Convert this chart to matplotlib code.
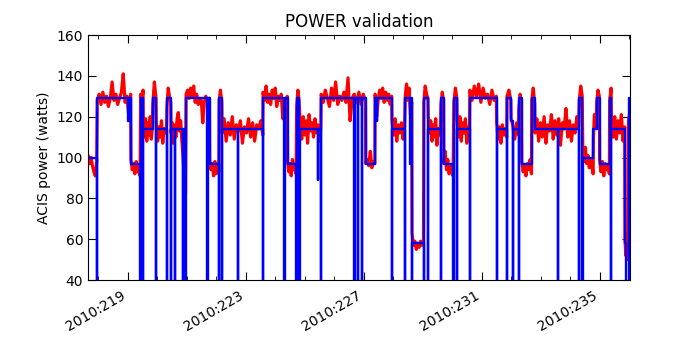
import numpy as np
import matplotlib
matplotlib.use('Agg')
import matplotlib.pyplot as plt
from matplotlib.ticker import MultipleLocator, FuncFormatter

# modelo (azul): inicio de cada degrau (dia do ano 2010) e potencia
blue_t = [217.60, 217.949, 217.96, 219.00, 219.03, 219.102,
          219.417, 219.425, 219.505, 219.515, 219.837, 219.949, 219.96,
          220.312, 220.32, 220.447, 220.455, 220.593, 220.60, 220.854, 220.86,
          220.932, 220.966, 221.688, 221.70, 221.769,
          222.085, 222.095, 222.186, 222.195, 222.729, 222.74,
          223.576, 223.585, 224.298, 224.31, 224.414,
          224.705, 224.715, 224.807, 224.815, 225.43, 225.45,
          225.542, 225.55, 226.671, 226.68, 226.807, 226.815, 226.942, 226.95,
          227.058, 227.373, 227.431, 227.44, 227.939, 227.95,
          228.380, 228.39, 228.57, 228.58, 228.627, 228.635,
          229.024, 229.03, 229.169, 229.175, 229.60, 229.61, 229.702,
          230.017, 230.051, 230.153, 230.16, 230.583, 230.59,
          231.498, 231.505, 231.847, 231.855, 231.983, 232.041, 232.05,
          232.244, 232.25, 232.346, 232.685, 232.797,
          233.566, 233.575, 234.288, 234.295, 234.400, 234.424,
          234.773, 234.888, 234.990, 235.329, 235.383, 235.39,
          235.847, 235.90, 235.973, 236.10]
blue_v = [100, 0, 129, 118, 129, 97,
          0, 129, 0, 114, 129, 0, 114,
          0, 129, 0, 114, 0, 114, 0, 114,
          0, 129, 0, 129, 97,
          0, 129, 0, 114, 0, 114,
          0, 129, 0, 129, 97,
          0, 129, 0, 114, 89, 114,
          0, 129, 0, 129, 0, 129, 0, 129,
          97, 129, 118, 129, 0, 114,
          0, 129, 97, 129, 0, 58,
          0, 129, 0, 114, 0, 129, 97,
          0, 129, 0, 114, 0, 129,
          0, 114, 0, 129, 118, 0, 114,
          0, 129, 97, 129, 114,
          0, 114, 0, 129, 0, 100,
          114, 129, 97, 129, 0, 114,
          58, 0, 129, 129]

# telemetria (vermelho): trechos (inicio, fim) e leituras ao longo de cada trecho
red_seg = [
    (217.60, 217.94, [99, 101, 97, 100, 96, 93, 91, 98]),
    (217.96, 219.09, [128, 131, 126, 132, 127, 130, 125, 129, 137, 128, 131, 126,
                      129, 132, 141, 127, 130, 120, 131]),
    (219.10, 219.41, [99, 94, 97, 92, 98, 93, 96, 91]),
    (219.43, 219.51, [131, 128, 133]),
    (219.52, 219.83, [116, 110, 119, 108, 117, 111, 120, 109, 115]),
    (219.84, 219.95, [126, 137, 129]),
    (219.96, 220.31, [117, 108, 115, 110, 118, 107, 114, 112, 116]),
    (220.32, 220.45, [125, 134, 130, 127]),
    (220.46, 220.95, [112, 117, 107, 116, 110, 119, 122, 113, 118, 108, 100, 88, 82]),
    (220.97, 221.69, [131, 133, 129, 134, 130, 135, 127, 131, 126, 129, 128, 117,
                      127, 130, 128]),
    (221.70, 221.76, [127, 129]),
    (221.77, 222.08, [99, 94, 97, 91, 98, 92, 96, 93]),
    (222.09, 222.18, [128, 133, 127]),
    (222.19, 223.57, [112, 119, 108, 117, 111, 120, 109, 116, 113, 118, 107, 115,
                      112, 119, 110, 117, 108, 116, 114, 118, 111]),
    (223.58, 224.30, [132, 128, 135, 127, 131, 126, 133, 129, 134, 125, 130, 128,
                      131, 119, 127]),
    (224.31, 224.40, [126, 130]),
    (224.41, 224.70, [98, 93, 97, 91, 99, 94, 96, 92]),
    (224.72, 224.80, [125, 133, 128]),
    (224.84, 225.54, [116, 109, 120, 111, 118, 107, 121, 113, 117, 110, 119, 112,
                      116, 108, 115]),
    (225.55, 226.67, [131, 127, 133, 129, 125, 134, 128, 137, 126, 130, 128, 132,
                      127, 139, 118, 129, 131]),
    (226.68, 227.05, [130, 127, 132, 126, 131, 128]),
    (227.06, 227.37, [97, 99, 96, 103, 95, 98, 97]),
    (227.38, 227.94, [131, 120, 128, 133, 129, 134, 127, 132, 128, 131, 126, 130]),
    (227.95, 228.38, [118, 111, 119, 108, 116, 112, 117, 109, 115]),
    (228.40, 228.62, [130, 136, 128, 134, 121, 127]),
    (228.63, 229.02, [63, 57, 59, 55, 58, 56, 59, 57, 58]),
    (229.03, 229.17, [127, 135, 131, 129]),
    (229.18, 229.60, [120, 112, 118, 108, 116, 110, 119, 106, 114, 111, 117]),
    (229.61, 229.70, [126, 132, 128]),
    (229.71, 230.02, [97, 103, 94, 99, 92, 96, 95, 91]),
    (230.05, 230.15, [127, 134, 129]),
    (230.16, 230.58, [118, 110, 120, 108, 117, 112, 119, 107, 115, 113]),
    (230.59, 231.49, [133, 128, 135, 130, 136, 127, 134, 129, 131, 126, 133, 128, 130]),
    (231.50, 231.84, [117, 109, 115, 107, 116, 111, 114, 110]),
    (231.85, 231.98, [130, 133, 128]),
    (231.99, 232.04, [119, 116]),
    (232.05, 232.24, [115, 109, 117, 111]),
    (232.25, 232.34, [124, 131, 127]),
    (232.35, 232.68, [98, 93, 96, 91, 97, 94, 99, 92]),
    (232.69, 232.79, [128, 134, 126]),
    (232.80, 234.28, [112, 119, 108, 117, 110, 120, 107, 116, 113, 121, 109, 118,
                      111, 119, 106, 117, 114, 124, 110, 118, 108, 116, 112, 120, 115]),
    (234.30, 234.40, [128, 135, 130]),
    (234.42, 234.77, [104, 98, 105, 97, 101, 95, 99, 96, 92]),
    (234.78, 234.88, [110, 121, 115, 118]),
    (234.89, 234.98, [127, 133, 130]),
    (234.99, 235.32, [99, 93, 98, 91, 97, 94, 96, 92]),
    (235.33, 235.38, [128, 134]),
    (235.39, 235.84, [116, 110, 120, 109, 118, 112, 121, 108, 115]),
    (235.85, 235.96, [60, 52, 62, 50, 56]),
    (235.97, 236.10, [118, 131]),
]

red_t = np.concatenate([np.linspace(a, b, len(v)) for a, b, v in red_seg])
red_v = np.concatenate([v for a, b, v in red_seg])

fig = plt.figure(figsize=(7, 3.5), dpi=100)
ax = fig.add_axes([0.1257, 0.2, 0.7743, 0.7])

ax.plot(red_t, red_v, color='#ff0000', lw=2.3)
ax.plot(blue_t, blue_v, color='#0000ff', lw=1.7, drawstyle='steps-post')

ax.set_xlim(217.644, 236.02)
ax.set_ylim(40, 160)
ax.set_yticks(range(40, 161, 20))
ax.xaxis.set_major_locator(MultipleLocator(4, offset=3))
ax.xaxis.set_minor_locator(MultipleLocator(1))
ax.xaxis.set_major_formatter(FuncFormatter(lambda x, p: '2010:%d' % round(x)))
ax.tick_params(which='both', direction='in', top=True, right=True, labelsize=10)
ax.tick_params(which='major', length=6)
ax.tick_params(which='minor', length=3)
ax.tick_params(axis='x', which='major', pad=6)
for lab in ax.get_xticklabels():
    lab.set_rotation(30)
    lab.set_ha('right')

ax.set_ylabel('ACIS power (watts)', fontsize=10)
ax.set_title('POWER validation', fontsize=12)

fig.savefig('out.png', dpi=100)
